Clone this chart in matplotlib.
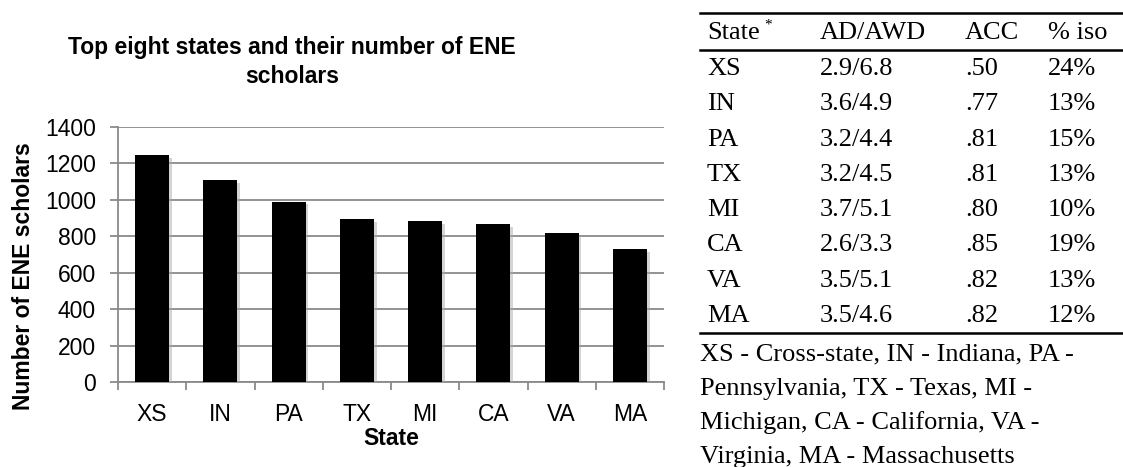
import matplotlib
matplotlib.use('Agg')
import matplotlib.pyplot as plt
import matplotlib.patheffects as pe
import numpy as np

# Chart data
states = ['XS', 'IN', 'PA', 'TX', 'MI', 'CA', 'VA', 'MA']
scholars = [1245, 1110, 990, 893, 884, 866, 818, 728]

# Table data
col_headers = ['State', 'AD/AWD', 'ACC', '% iso']
ad_awd = ['2.9/6.8', '3.6/4.9', '3.2/4.4', '3.2/4.5', '3.7/5.1', '2.6/3.3', '3.5/5.1', '3.5/4.6']
acc = ['.50', '.77', '.81', '.81', '.80', '.85', '.82', '.82']
pct_iso = ['24%', '13%', '15%', '13%', '10%', '19%', '13%', '12%']
footnote = ['XS - Cross-state, IN - Indiana, PA -',
            'Pennsylvania, TX - Texas, MI -',
            'Michigan, CA - California, VA -',
            'Virginia, MA - Massachusetts']

W, H = 1123, 467
fig = plt.figure(figsize=(W / 100, H / 100), dpi=100)

sans = 'Liberation Sans'
serif = 'Liberation Serif'
grey = '#8a8a8a'
fs = 16.5

# Bar chart
ax = fig.add_axes([118 / W, 1 - 382 / H, (664 - 118) / W, (382 - 127) / H])
x = np.arange(len(states))
bars = ax.bar(x, scholars, width=0.5, color='black', zorder=3)
for b in bars:
    b.set_path_effects([pe.SimplePatchShadow(offset=(2, -2), shadow_rgbFace='#aaaaaa', alpha=0.5),
                        pe.Normal()])

ax.set_xlim(-0.5, len(states) - 0.5)
ax.set_ylim(0, 1400)
ax.set_yticks(range(0, 1401, 200))
ax.yaxis.grid(True, color=grey, linewidth=1.3, zorder=0)
ax.set_axisbelow(True)
for s in ['top', 'right']:
    ax.spines[s].set_visible(False)
for s in ['left', 'bottom']:
    ax.spines[s].set_color(grey)
    ax.spines[s].set_linewidth(1.3)

ax.set_xticks(x)
ax.set_xticklabels(states, fontfamily=sans, fontsize=fs)
ax.set_xticks(np.arange(-0.5, len(states), 1), minor=True)
ax.tick_params(axis='x', which='major', length=0, pad=15)
ax.tick_params(axis='x', which='minor', length=6, width=1.3, color=grey, direction='out')
ax.tick_params(axis='y', length=6, width=1.3, color=grey, pad=10, labelsize=fs)
for lbl in ax.get_yticklabels():
    lbl.set_fontfamily(sans)

ax.set_xlabel('State', fontfamily=sans, fontsize=fs, fontweight='bold', va='top')
ax.xaxis.set_label_coords(0.5, -(427 - 382) / 255)
ax.set_ylabel('Number of ENE scholars', fontfamily=sans, fontsize=fs, fontweight='bold',
              va='center', ha='center')
ax.yaxis.set_label_coords((24 - 118) / 546, (382 - 276) / 255)

fig.text(292 / W, 1 - 62 / H, 'Top eight states and their number of ENE\nscholars',
         ha='center', va='center', fontfamily=sans, fontsize=fs, fontweight='bold',
         linespacing=1.3)

# Table on the right
tfs = 19
col_x = [707, 820, 965, 1048]
header_base = 39
row_base0 = 75
pitch = 35.3


def fy(py):
    return 1 - py / H


for cx, h in zip(col_x, col_headers):
    fig.text(cx / W, fy(header_base), h, ha='left', va='baseline',
             fontfamily=serif, fontsize=tfs)
fig.text(764 / W, fy(29), '*', ha='left', va='baseline', fontfamily=serif, fontsize=11)

for i, st in enumerate(states):
    yb = row_base0 + i * pitch
    for cx, val in zip(col_x, [st, ad_awd[i], acc[i], pct_iso[i]]):
        fig.text(cx / W, fy(yb), val, ha='left', va='baseline',
                 fontfamily=serif, fontsize=tfs)

for ly in [13, 50, 333]:
    fig.add_artist(plt.Line2D([700 / W, 1123 / W], [fy(ly), fy(ly)],
                              color='black', linewidth=1.8))

for i, line in enumerate(footnote):
    fig.text(700 / W, fy(360 + i * 34.5), line, ha='left', va='baseline',
             fontfamily=serif, fontsize=tfs)

fig.savefig('out.png', dpi=100)
